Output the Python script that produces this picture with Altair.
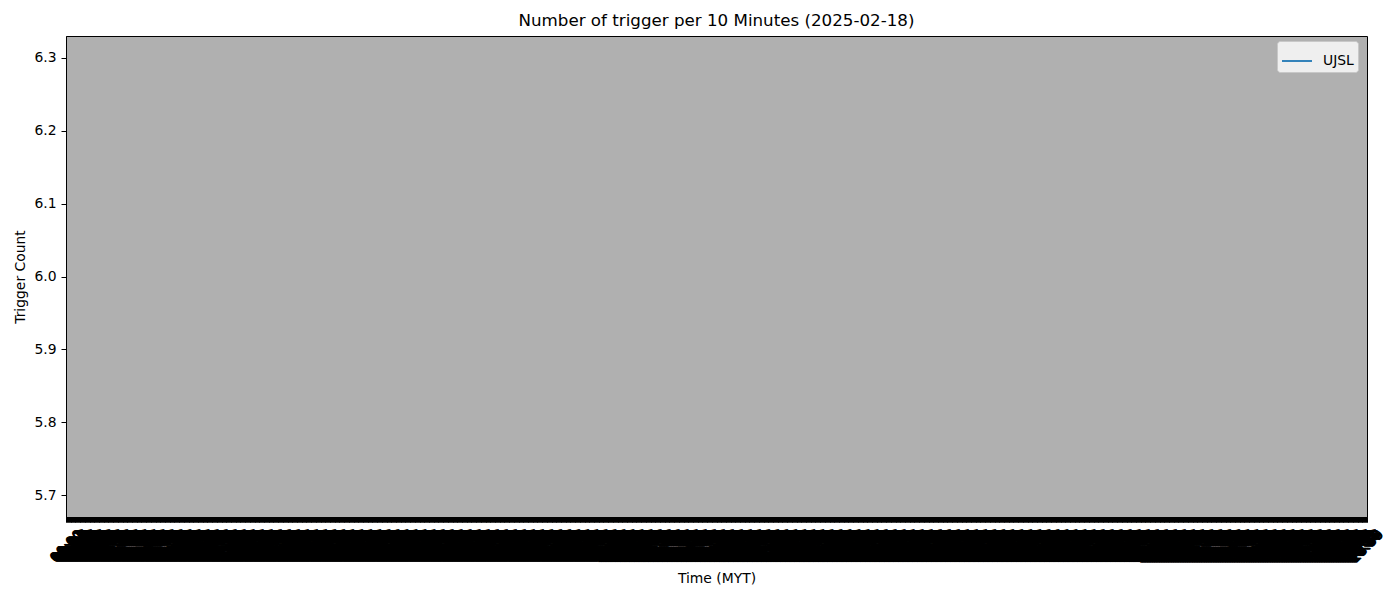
import altair as alt
import pandas as pd

# ---- data ----
series = ["UJSL"]
times = ["2025-02-18T12:00:00Z"]   # a single sample: the line draws nothing
counts = [6]
y_ticks = [5.7, 5.8, 5.9, 6.0, 6.1, 6.2, 6.3]
y_domain = [5.67, 6.33]

df = pd.DataFrame({"time": times, "count": counts, "station": series})

FONT = "DejaVu Sans"

x_axis = alt.Axis(
    title="Time (MYT)",
    format="%H:%M",
    tickCount=2880,
    labelAngle=-45,
    labelAlign="center",
    labelBaseline="middle",
    labelPadding=24,
    labelOverlap=False,
    labelFlush=False,
    labelBound=False,
    labelFontSize=13.9,
    labelColor="black",
    labelFont=FONT,
    tickSize=5,
    tickColor="black",
    tickWidth=1,
    domainColor="black",
    grid=False,
    titleFont=FONT,
    titleFontSize=13.9,
    titleFontWeight="normal",
    titleColor="black",
    titlePadding=6,
)

y_axis = alt.Axis(
    title="Trigger Count",
    values=y_ticks,
    format=".1f",
    labelFontSize=13.9,
    labelColor="black",
    labelFont=FONT,
    labelPadding=5,
    tickSize=5,
    tickColor="black",
    domainColor="black",
    grid=False,
    titleFont=FONT,
    titleFontSize=13.9,
    titleFontWeight="normal",
    titleColor="black",
    titlePadding=6,
)

chart = (
    alt.Chart(df)
    .mark_line(strokeWidth=1.5)
    .encode(
        x=alt.X(
            "time:T",
            axis=x_axis,
            scale=alt.Scale(
                type="utc",
                nice=False,
                domain=[
                    alt.DateTime(year=2025, month=2, date=18, hours=0, minutes=0, utc=True),
                    alt.DateTime(year=2025, month=2, date=18, hours=23, minutes=59, utc=True),
                ],
            ),
        ),
        y=alt.Y("count:Q", axis=y_axis, scale=alt.Scale(domain=y_domain, nice=False, zero=False)),
        color=alt.Color(
            "station:N",
            scale=alt.Scale(domain=series, range=["#1f77b4"]),
            legend=alt.Legend(
                title=None,
                orient="none",
                legendX=1211,
                legendY=5,
                symbolType="M-1,0L1,0",
                symbolSize=900,
                symbolStrokeWidth=1.8,
                symbolOpacity=1,
                labelFontSize=13.9,
                labelFont=FONT,
                labelColor="black",
                labelOffset=10,
                fillColor="#efefef",
                strokeColor="#c8c8c8",
                cornerRadius=3,
                padding=4,
            ),
        ),
    )
    .properties(
        width=1301,
        height=481,
        background="white",
        title=alt.TitleParams(
            "Number of trigger per 10 Minutes (2025-02-18)",
            font=FONT,
            fontSize=16.7,
            fontWeight="normal",
            color="black",
            anchor="middle",
            offset=6,
        ),
        autosize=alt.AutoSizeParams(type="none"),
        padding={"left": 66, "top": 36, "right": 33, "bottom": 83},
    )
    .configure_view(fill="#b0b0b0", stroke="black", strokeWidth=1)
)

chart.save("out.html", embed_options={"renderer": "svg", "actions": False})
